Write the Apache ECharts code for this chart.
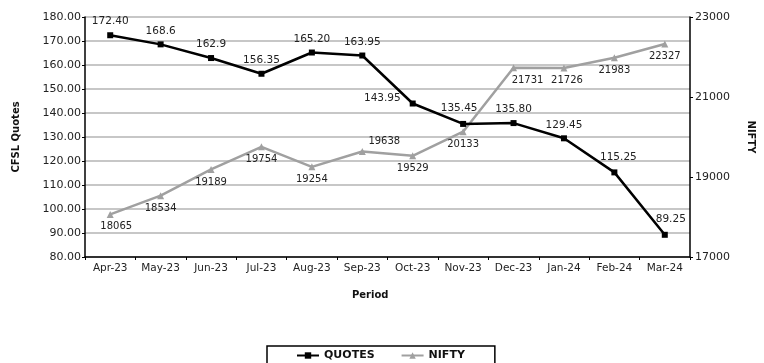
<!DOCTYPE html>
<html>
<head>
<meta charset="utf-8">
<script src="https://cdn.jsdelivr.net/npm/echarts@6/dist/echarts.min.js"></script>
<style>html,body{margin:0;padding:0;background:#fff}#c{width:764px;height:363px}</style>
</head>
<body>
<div id="c"></div>
<script>
var categories = ['Apr-23','May-23','Jun-23','Jul-23','Aug-23','Sep-23','Oct-23','Nov-23','Dec-23','Jan-24','Feb-24','Mar-24'];
var quotes = [172.40, 168.6, 162.9, 156.35, 165.20, 163.95, 143.95, 135.45, 135.80, 129.45, 115.25, 89.25];
var quoteLabels = ['172.40','168.6','162.9','156.35','165.20','163.95','143.95','135.45','135.80','129.45','115.25','89.25'];
var nifty = [18065, 18534, 19189, 19754, 19254, 19638, 19529, 20133, 21731, 21726, 21983, 22327];

var FONT = 'DejaVu Sans';
var chart = echarts.init(document.getElementById('c'));

var quoteData = quotes.map(function (v, i) {
  var d = { value: v, label: { formatter: quoteLabels[i] } };
  if (i === 6) { d.label.position = 'left'; d.label.offset = [-4, -5]; }
  if (i === 7) { d.label.offset = [-4, -2]; }
  if (i === 10) { d.label.offset = [4, -2]; }
  if (i === 11) { d.label.offset = [6, -2]; }
  return d;
});
var niftyData = nifty.map(function (v, i) {
  var d = { value: v, label: {} };
  if (i === 5) { d.label.position = 'top'; d.label.offset = [22, 2]; }
  if (i === 8) { d.label.offset = [14, 0]; }
  if (i === 9) { d.label.offset = [3, 0]; }
  if (i === 0) { d.label.offset = [6, 0]; }
  return d;
});

chart.setOption({
  animation: false,
  textStyle: { fontFamily: FONT },
  grid: { left: 85, right: 63, top: 17, bottom: 106 },
  xAxis: {
    type: 'category',
    data: categories,
    boundaryGap: true,
    axisLine: { lineStyle: { color: '#000', width: 1.5 } },
    axisTick: { show: true, length: 3, interval: 0, lineStyle: { color: '#000' } },
    axisLabel: { color: '#222', fontSize: 10.5, fontFamily: FONT, margin: 6, interval: 0 }
  },
  yAxis: [{
    type: 'value', min: 80, max: 180, interval: 10,
    name: 'CFSL Quotes', nameLocation: 'middle', nameGap: 64, nameRotate: 90,
    nameTextStyle: { fontWeight: 'bold', fontSize: 10, color: '#111', fontFamily: FONT },
    axisLine: { show: true, lineStyle: { color: '#000', width: 1.5 } },
    axisTick: { show: true, length: 3, lineStyle: { color: '#000' } },
    axisLabel: { color: '#222', fontSize: 11, fontFamily: FONT, margin: 4,
      formatter: function (v) { return v.toFixed(2); } },
    splitLine: { lineStyle: { color: '#b4b4b4', width: 1.5 } }
  }, {
    type: 'value', min: 17000, max: 23000, interval: 2000, position: 'right',
    name: 'NIFTY', nameLocation: 'middle', nameGap: 56, nameRotate: -90,
    nameTextStyle: { fontWeight: 'bold', fontSize: 10, color: '#111', fontFamily: FONT },
    axisLine: { show: true, lineStyle: { color: '#000', width: 1.5 } },
    axisTick: { show: true, length: 3, inside: false, lineStyle: { color: '#000' } },
    axisLabel: { color: '#222', fontSize: 11, fontFamily: FONT, margin: 5,
      formatter: function (v) { return String(v); } },
    splitLine: { show: false }
  }],
  legend: {
    left: 267, top: 346,
    padding: [4, 30, 20, 29],
    itemGap: 26, itemWidth: 22, itemHeight: 8,
    borderColor: '#000', borderWidth: 1.5,
    textStyle: { fontWeight: 'bold', fontSize: 11, color: '#111', fontFamily: FONT },
    data: ['QUOTES', 'NIFTY']
  },
  graphic: [{
    type: 'text', left: 352, top: 290,
    style: { text: 'Period', font: 'bold 10px "DejaVu Sans"', fill: '#111' }
  }],
  series: [{
    name: 'QUOTES', type: 'line', yAxisIndex: 0, data: quoteData,
    symbol: 'rect', symbolSize: 6,
    lineStyle: { color: '#000', width: 2.5 },
    itemStyle: { color: '#000' },
    label: { show: true, position: 'top', distance: 5, color: '#222', fontSize: 10.5, fontFamily: FONT },
    z: 3
  }, {
    name: 'NIFTY', type: 'line', yAxisIndex: 1, data: niftyData,
    symbol: 'triangle', symbolSize: 7,
    lineStyle: { color: '#a0a0a0', width: 2.5 },
    itemStyle: { color: '#a0a0a0' },
    label: { show: true, position: 'bottom', distance: 4, color: '#222', fontSize: 10, fontFamily: FONT },
    z: 2
  }]
});
</script>
</body>
</html>
